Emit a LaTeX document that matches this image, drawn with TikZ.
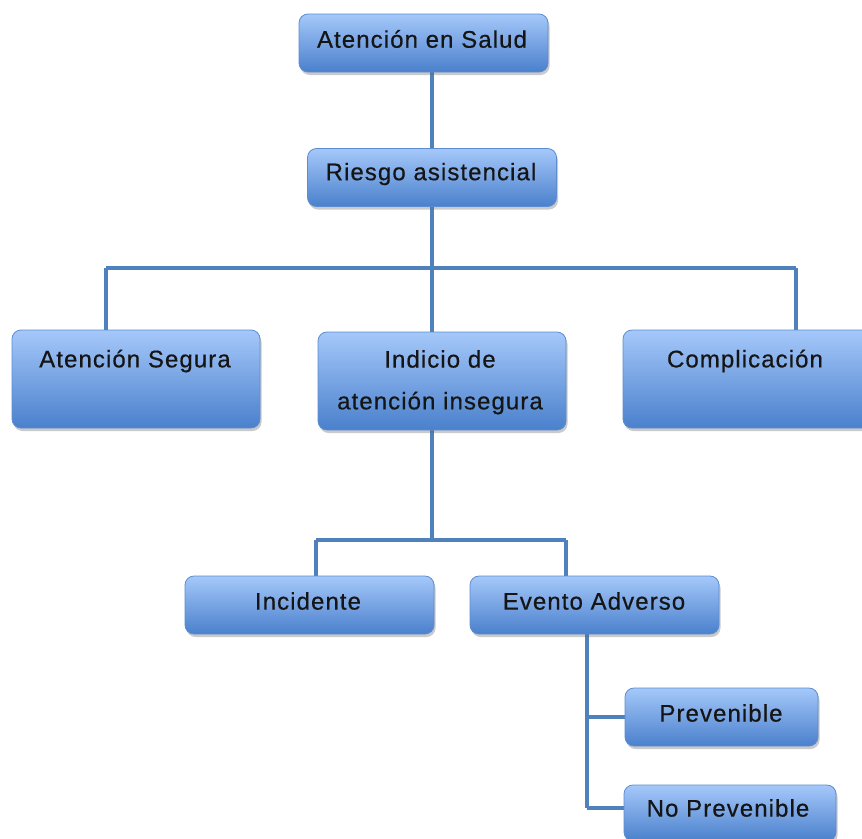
\documentclass[tikz,border=0pt]{standalone}
\usepackage{fontspec}
\setmainfont{Liberation Sans}[LetterSpace=4.5, FakeBold=0.5]
\usetikzlibrary{shadows}
\pgfdeclarelayer{background}
\pgfsetlayers{background,main}
\definecolor{topc}{HTML}{A5C8FA}
\definecolor{botc}{HTML}{4A80CC}
\definecolor{edgec}{HTML}{5C8DD2}
\definecolor{linec}{HTML}{4F81BD}
\definecolor{txt}{HTML}{151515}
\tikzset{
  box/.style={rectangle, rounded corners=9pt, draw=edgec, line width=0.8pt,
    top color=topc, bottom color=botc,
    drop shadow={opacity=0.35, shadow xshift=1.5pt, shadow yshift=-3pt, fill=black!60},
    minimum width=249pt, minimum height=58pt, inner sep=0pt},
  lbl/.style={text=txt, font=\fontsize{24}{28}\selectfont, inner sep=0pt, align=center},
  conn/.style={draw=linec, line width=3.5pt}
}
\begin{document}
\begin{tikzpicture}[x=1pt,y=-1pt]
\useasboundingbox (0,0) rectangle (862,838);
\clip (0,0) rectangle (862,838);
\node[box] (n1) at (423.5,43) {};
\node[lbl] (t1) at (422,39) {Atención en Salud};
\node[box] (n2) at (432,177.5) {};
\node[lbl] (t2) at (431,174) {Riesgo asistencial};
\node[box, minimum width=248pt, minimum height=98pt] (n3) at (136,379) {};
\node[lbl] (t3) at (135,361) {Atención Segura};
\node[box, minimum width=248pt, minimum height=98pt] (n4) at (442,381) {};
\node[lbl] (t4a) at (440,359) {Indicio de};
\node[lbl] (t4b) at (440,403) {atención insegura};
\node[box, minimum width=248pt, minimum height=98pt] (n5) at (747,379) {};
\node[lbl] (t5) at (745,361) {Complicación};
\node[box] (n6) at (309.5,605) {};
\node[lbl] (t6) at (308,601) {Incidente};
\node[box] (n7) at (594.5,605) {};
\node[lbl] (t7) at (594,601) {Evento Adverso};
\node[box, minimum width=193pt] (n8) at (721.5,717) {};
\node[lbl] (t8) at (721,713) {Prevenible};
\node[box, minimum width=212pt, minimum height=56pt] (n9) at (730,813) {};
\node[lbl] (t9) at (728,808) {No Prevenible};
\coordinate (j1) at (432,268);
\coordinate (h1l) at (106,268);
\coordinate (h1r) at (796,268);
\coordinate (j2) at (432,540);
\coordinate (h2l) at (316,540);
\coordinate (h2r) at (566,540);
\coordinate (v3) at (587,808);
\begin{pgfonlayer}{background}
\draw[conn] (n1.south -| n2.north) -- (n2.north);
\draw[conn] (n2.south) -- (j1);
\draw[conn] (h1l) -- (h1r);
\draw[conn] (h1l) -- (h1l |- n3.north);
\draw[conn] (j1) -- (j1 |- n4.north);
\draw[conn] (h1r) -- (h1r |- n5.north);
\draw[conn] (j1 |- n4.south) -- (j2);
\draw[conn] (h2l) -- (h2r);
\draw[conn] (h2l) -- (h2l |- n6.north);
\draw[conn] (h2r) -- (h2r |- n7.north);
\draw[conn] (v3 |- n7.south) -- (v3);
\draw[conn] (v3 |- n8.west) -- (n8.west);
\draw[conn] (v3) -- (v3 -| n9.west);
\end{pgfonlayer}
\end{tikzpicture}
\end{document}
